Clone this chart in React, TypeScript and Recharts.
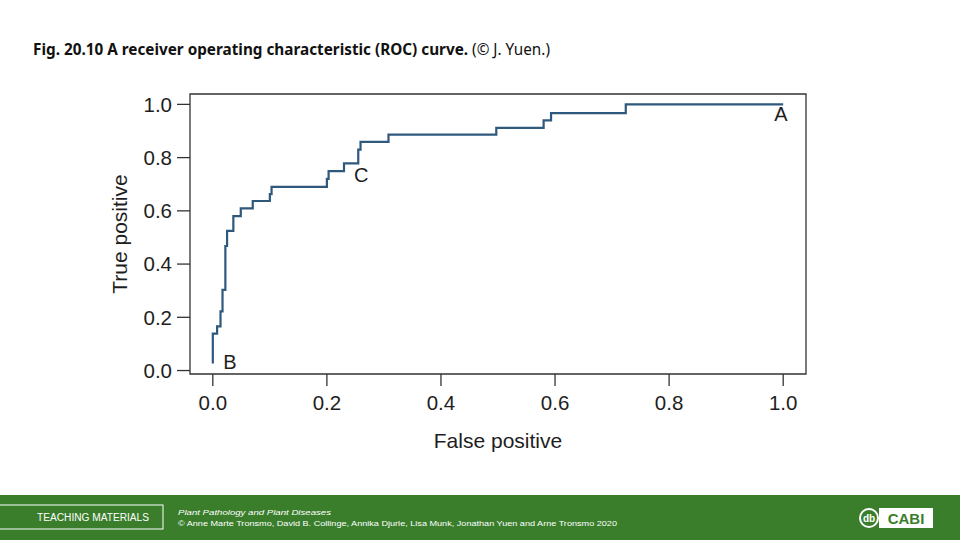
import React from 'react';
import { LineChart, Line, XAxis, YAxis, ReferenceArea, ReferenceDot } from 'recharts';

// ROC curve vertices (step-after): false positive rate and true positive rate
const falsePositive = [0, 0, 0.0075, 0.0135, 0.017, 0.022, 0.025, 0.036, 0.049, 0.07, 0.1, 0.103, 0.2, 0.203, 0.23, 0.255, 0.259, 0.308, 0.497, 0.58, 0.593, 0.724, 1.0];
const truePositive = [0.026, 0.139, 0.166, 0.222, 0.303, 0.468, 0.525, 0.58, 0.609, 0.637, 0.663, 0.69, 0.72, 0.749, 0.778, 0.83, 0.859, 0.886, 0.912, 0.94, 0.967, 1.0, 1.0];

const xTicks = [0, 0.2, 0.4, 0.6, 0.8, 1.0];
const yTicks = [0, 0.2, 0.4, 0.6, 0.8, 1.0];

// Point annotations in data coordinates
const annotationLabels = ['A', 'B', 'C'];
const annotationX = [0.996, 0.03, 0.26];
const annotationY = [0.964, 0.032, 0.735];

const X_DOMAIN: [number, number] = [-0.04, 1.04];
const Y_DOMAIN: [number, number] = [-0.013, 1.039];

const data = falsePositive.map((fp, i) => ({ fp, tp: truePositive[i] }));

const TEXT = '#1e1e1e';
const AXIS = '#333333';
const LINE = '#2e587c';
const FONT = '"Liberation Sans", Arial, Helvetica, sans-serif';

const fmt = (v: number) => v.toFixed(1);

const XTitle = (props: any) => {
  const vb = props.viewBox || {};
  const cx = vb.x + vb.width / 2;
  return (
    <text x={cx} y={448} textAnchor="middle" fontSize={21} fill={TEXT} fontFamily={FONT}>
      False positive
    </text>
  );
};

const YTitle = (props: any) => {
  const vb = props.viewBox || {};
  const cx = vb.x + 9;
  const cy = vb.y + vb.height / 2;
  return (
    <text
      x={cx}
      y={cy}
      transform={`rotate(-90 ${cx} ${cy})`}
      textAnchor="middle"
      dominantBaseline="central"
      fontSize={21}
      fill={TEXT}
      fontFamily={FONT}
    >
      True positive
    </text>
  );
};

export default function App() {
  return (
    <div style={{ position: 'absolute', left: 0, top: 0, width: 960, height: 540, background: '#ffffff', overflow: 'hidden' }}>
      <svg width={960} height={540} style={{ position: 'absolute', left: 0, top: 0 }}>
        <text x={33} y={55} fontFamily='"Noto Sans", "Open Sans", sans-serif' fontSize={15.5} fill="#111" textLength={517} lengthAdjust="spacingAndGlyphs">
          <tspan fontWeight="bold">Fig. 20.10 A receiver operating characteristic (ROC) curve.</tspan>
          <tspan> (© J. Yuen.)</tspan>
        </text>
      </svg>

      <div style={{ position: 'absolute', left: 0, top: 0 }}>
        <LineChart width={960} height={540} data={data} margin={{ top: 94, right: 154, bottom: 86, left: 110 }}>
          <ReferenceArea x1={X_DOMAIN[0]} x2={X_DOMAIN[1]} y1={Y_DOMAIN[0]} y2={Y_DOMAIN[1]} fill="none" stroke={AXIS} strokeWidth={1.3} ifOverflow="visible" />
          <XAxis
            type="number"
            dataKey="fp"
            domain={X_DOMAIN}
            ticks={xTicks}
            tickFormatter={fmt}
            allowDataOverflow
            axisLine={false}
            tickLine={{ stroke: AXIS, strokeWidth: 1.3 }}
            tickSize={12}
            tickMargin={9}
            height={80}
            tick={{ fontSize: 20.5, fill: TEXT, fontFamily: FONT }}
            label={XTitle}
          />
          <YAxis
            type="number"
            domain={Y_DOMAIN}
            ticks={yTicks}
            tickFormatter={fmt}
            allowDataOverflow
            axisLine={false}
            tickLine={{ stroke: AXIS, strokeWidth: 1.3 }}
            tickSize={13}
            tickMargin={5}
            width={80}
            tick={{ fontSize: 20.5, fill: TEXT, fontFamily: FONT }}
            label={YTitle}
          />
          <Line type="stepAfter" dataKey="tp" stroke={LINE} strokeWidth={2.2} dot={false} activeDot={false} isAnimationActive={false} />
          {annotationLabels.map((lab, i) => (
            <ReferenceDot
              key={lab}
              x={annotationX[i]}
              y={annotationY[i]}
              r={1}
              fill="none"
              stroke="none"
              label={{ value: lab, position: 'center', fontSize: 20, fill: TEXT, fontFamily: FONT }}
            />
          ))}
        </LineChart>
      </div>

      <svg width={960} height={45} style={{ position: 'absolute', left: 0, top: 495 }}>
        <rect x={0} y={0} width={960} height={45} fill="#3a7e2c" />
        <rect x={-1} y={10} width={164} height={24} fill="none" stroke="#ffffff" strokeWidth={1} />
        <text x={93} y={25.5} textAnchor="middle" fontFamily={FONT} fontSize={10} fill="#ffffff" textLength={112} lengthAdjust="spacingAndGlyphs">
          TEACHING MATERIALS
        </text>
        <text x={178} y={20} fontFamily={FONT} fontSize={7.5} fontStyle="italic" fill="#ffffff" textLength={153} lengthAdjust="spacingAndGlyphs">
          Plant Pathology and Plant Diseases
        </text>
        <text x={178} y={31} fontFamily={FONT} fontSize={7.5} fill="#ffffff" textLength={439} lengthAdjust="spacingAndGlyphs">
          © Anne Marte Tronsmo, David B. Collinge, Annika Djurle, Lisa Munk, Jonathan Yuen and Arne Tronsmo 2020
        </text>
        <circle cx={869} cy={23} r={9} fill="none" stroke="#ffffff" strokeWidth={2} />
        <text x={869} y={27} textAnchor="middle" fontFamily={FONT} fontSize={10} fontWeight="bold" fill="#ffffff">db</text>
        <rect x={879} y={13} width={54} height={20} fill="#ffffff" />
        <text x={906} y={28.5} textAnchor="middle" fontFamily={FONT} fontSize={15} fontWeight="bold" fill="#3a7e2c">CABI</text>
      </svg>
    </div>
  );
}
